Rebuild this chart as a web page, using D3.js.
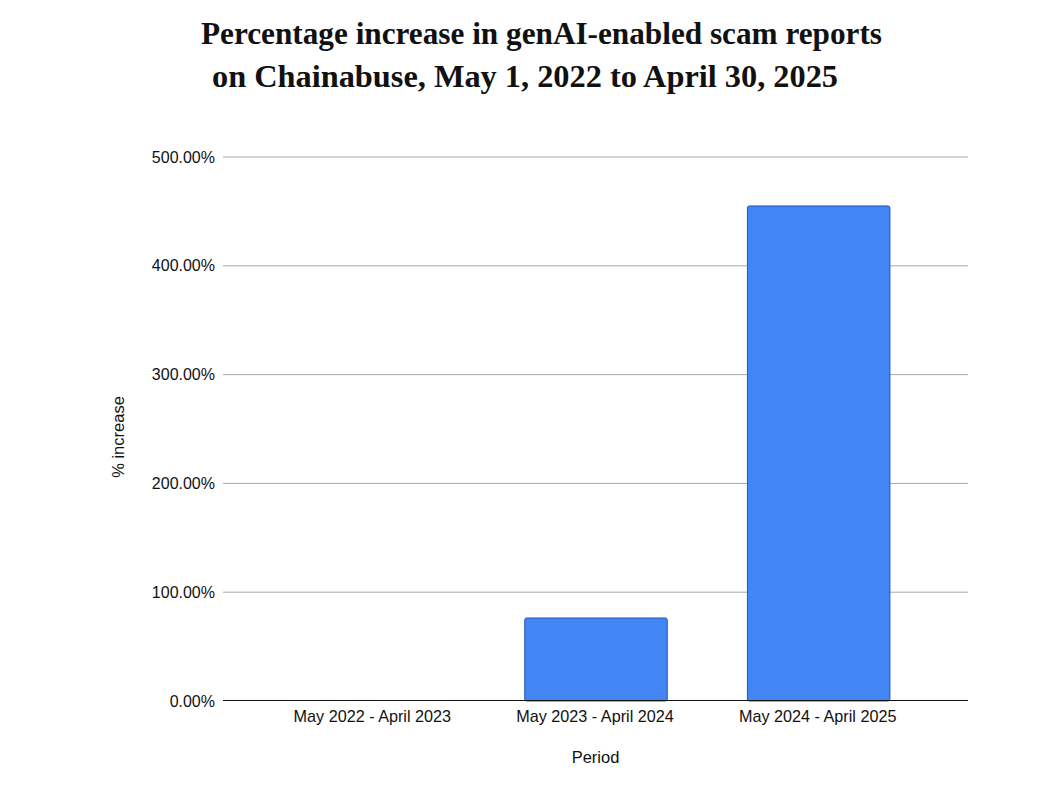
<!DOCTYPE html>
<html>
<head>
<meta charset="utf-8">
<script src="https://cdn.jsdelivr.net/npm/d3@7"></script>
<style>
html, body { margin: 0; padding: 0; background: #fff; }
svg { display: block; }
</style>
</head>
<body>
<div id="chart"></div>
<script>
var periods = ["May 2022 - April 2023", "May 2023 - April 2024", "May 2024 - April 2025"];
var increases = [0, 76.3, 455];
var yTicks = [0, 100, 200, 300, 400, 500];
var titleLines = ["Percentage increase in genAI-enabled scam reports", "on Chainabuse, May 1, 2022 to April 30, 2025"];

var svg = d3.select("#chart").append("svg").attr("width", 1063).attr("height", 786);

var x = d3.scaleBand().domain(periods).range([262, 930]).paddingInner(0.36).paddingOuter(0.18);
var y = d3.scaleLinear().domain([0, 500]).range([701, 157]);

// gridlines
svg.append("g").selectAll("line")
    .data(yTicks.slice(1))
    .enter().append("line")
    .attr("x1", 223).attr("x2", 968)
    .attr("y1", d => y(d)).attr("y2", d => y(d))
    .attr("stroke", "#a8a8a8").attr("stroke-width", 1);

// bars
svg.append("g").selectAll("rect")
    .data(periods)
    .enter().append("rect")
    .attr("x", d => x(d))
    .attr("width", x.bandwidth())
    .attr("y", (d, i) => y(increases[i]))
    .attr("height", (d, i) => y(0) - y(increases[i]))
    .attr("rx", 2)
    .attr("fill", "#4285f4")
    .attr("stroke", (d, i) => increases[i] > 0 ? "#1f56b0" : "none")
    .attr("stroke-width", 1);

// y axis
var yAxis = d3.axisLeft(y).tickValues(yTicks).tickFormat(d => d.toFixed(2) + "%").tickSize(0).tickPadding(8);
var yG = svg.append("g").attr("transform", "translate(223,0)").call(yAxis);
yG.select(".domain").remove();
yG.selectAll("text").attr("font-family", "Liberation Sans, Arial, sans-serif").attr("font-size", 16).attr("fill", "#111");

// x axis
var xAxis = d3.axisBottom(x).tickSize(0).tickPadding(9);
var xG = svg.append("g").attr("transform", "translate(-1,701)").call(xAxis);
xG.select(".domain").remove();
xG.selectAll("text").attr("font-family", "Liberation Sans, Arial, sans-serif").attr("font-size", 16.2).attr("fill", "#111");

// baseline, half pixel up so it stays crisp
svg.append("line")
    .attr("x1", 223).attr("x2", 968)
    .attr("y1", y(0) - 0.5).attr("y2", y(0) - 0.5)
    .attr("stroke", "#111").attr("stroke-width", 1);

// axis titles
svg.append("text")
    .attr("x", 595.5).attr("y", 763)
    .attr("text-anchor", "middle")
    .attr("font-family", "Liberation Sans, Arial, sans-serif")
    .attr("font-size", 16.5).attr("fill", "#111")
    .text("Period");

svg.append("text")
    .attr("transform", "translate(124,437) rotate(-90)")
    .attr("text-anchor", "middle")
    .attr("font-family", "Liberation Sans, Arial, sans-serif")
    .attr("font-size", 16.5).attr("fill", "#111")
    .text("% increase");

// title, squeezed to the reference line widths
var titleX = [541.5, 525];
var titleY = [44, 87];
var titleW = [681, 626];
svg.append("g").selectAll("text")
    .data(titleLines)
    .enter().append("text")
    .attr("x", (d, i) => titleX[i])
    .attr("y", (d, i) => titleY[i])
    .attr("text-anchor", "middle")
    .attr("textLength", (d, i) => titleW[i])
    .attr("lengthAdjust", "spacingAndGlyphs")
    .attr("font-family", "Liberation Serif, serif")
    .attr("font-weight", "bold")
    .attr("font-size", 32)
    .attr("fill", "#111")
    .text(d => d);
</script>
</body>
</html>
